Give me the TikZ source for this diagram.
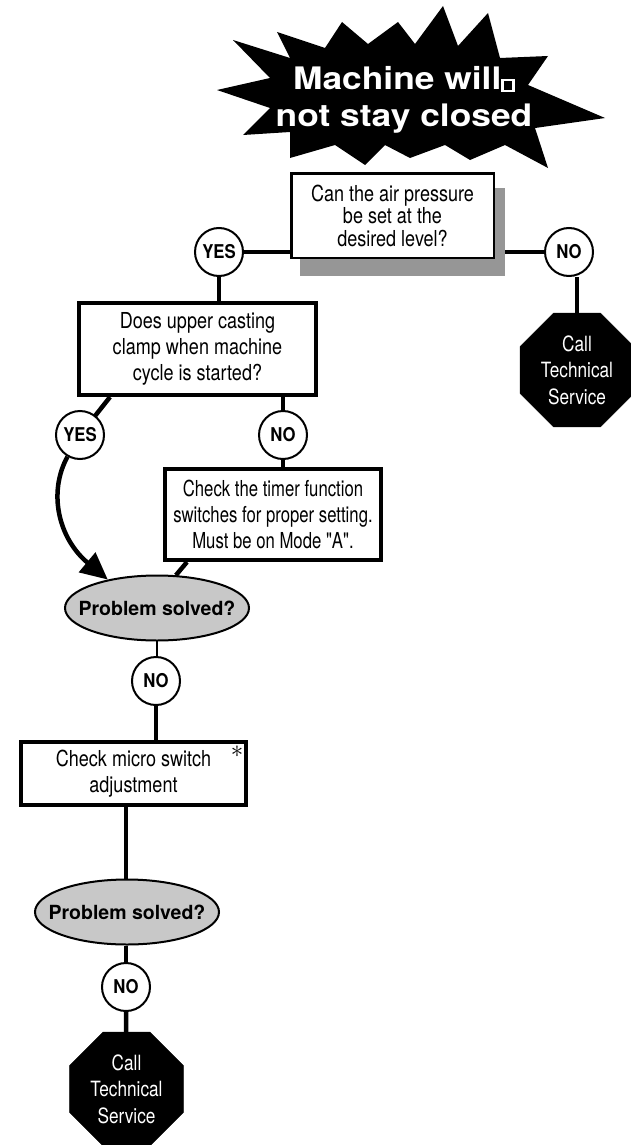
\documentclass[tikz,border=0pt]{standalone}
\usepackage{fontspec}
\setmainfont{TeX Gyre Heros}
\newfontfamily\titlefont[FakeStretch=1.14]{TeX Gyre Heros}
\newfontfamily\narrowfont[FakeStretch=0.82]{TeX Gyre Heros}
\newfontfamily\narrowerfont[FakeStretch=0.76]{TeX Gyre Heros}
\newfontfamily\ynfont[FakeStretch=0.88]{TeX Gyre Heros}
\usetikzlibrary{shapes.geometric,backgrounds,arrows.meta,calc}
\definecolor{shadowgray}{RGB}{150,150,150}
\definecolor{ovalgray}{RGB}{200,200,200}
\begin{document}
\begin{tikzpicture}[x=1pt,y=-1pt,
  qtext/.style={font=\narrowfont\fontsize{22}{26}\selectfont, align=center},
  qbox/.style={qtext, draw, line width=4pt, fill=white, inner sep=0pt},
  yn/.style={circle, draw, line width=2pt, fill=white, minimum size=48pt, inner sep=0pt,
     font=\ynfont\fontsize{19}{19}\selectfont\bfseries},
  oval/.style={ellipse, draw, line width=2pt, fill=ovalgray, minimum width=184pt,
     minimum height=65pt, inner sep=0pt, font=\fontsize{19.5}{19.5}\selectfont\bfseries},
  stopsign/.style={regular polygon, regular polygon sides=8, fill=black, draw=black,
     minimum size=123pt, inner sep=0pt},
  stoptext/.style={text=white, align=center, font=\narrowfont\fontsize{21}{26.5}\selectfont},
  link/.style={line width=4.5pt},
  thinlink/.style={line width=2pt}
]
\useasboundingbox (0,0) rectangle (630,1145);

% starburst
\fill[black] (217,90) -- (270,78) -- (233,40) -- (290,58) -- (277,32) -- (325,48)
  -- (342,22) -- (368,44) -- (398,22) -- (415,44) -- (443,6) -- (458,46) -- (488,13)
  -- (500,58) -- (548,56) -- (528,85) -- (605,118) -- (535,128) -- (548,168)
  -- (505,145) -- (470,160) -- (445,145) -- (410,158) -- (385,145) -- (365,165)
  -- (335,145) -- (290,158) -- (290,132) -- (243,135) -- (270,108) -- cycle;
\node[text=white, align=center, inner sep=0pt,
  font=\titlefont\fontsize{31}{37}\selectfont\bfseries] (title) at (404,100)
  {Machine will{\setlength\fboxsep{0pt}\setlength\fboxrule{2.5pt}\fbox{\rule{0pt}{8.5pt}\hspace{8.5pt}}}\\not stay closed};

% shadow of first box
\fill[shadowgray] (300,188) rectangle (505,276);

% boxes
\node[qbox, line width=2.5pt, minimum width=202.5pt, minimum height=84.5pt,
  font=\narrowfont\fontsize{22}{22.5}\selectfont] (box1) at (392.5,215.5)
  {Can the air pressure\\be set at the\\desired level?};
\node[qbox, minimum width=237pt, minimum height=92pt] (box2) at (197.5,349)
  {Does upper casting\\clamp when machine\\cycle is started?};
\node[qbox, minimum width=216pt, minimum height=91pt,
  font=\narrowerfont\fontsize{22}{26}\selectfont] (box3) at (273,514.5)
  {Check the timer function\\switches for proper setting.\\Must be on Mode "A".};
\node[qbox, minimum width=225pt, minimum height=63pt] (box4) at (133.5,773.5)
  {Check micro switch\\adjustment};
\node[font=\fontsize{24}{24}\selectfont, inner sep=0pt] (ast) at (237,752) {$\ast$};

% yes / no circles
\node[yn] (yes1) at (219,252) {YES};
\node[yn] (no1) at (569,252) {NO};
\node[yn] (yes2) at (80,435) {YES};
\node[yn] (no2) at (283,435) {NO};
\node[yn] (no3) at (156,681) {NO};
\node[yn] (no4) at (126,987) {NO};

% ovals
\node[oval] (ps1) at (157,608) {\makebox[0pt]{Problem solved?}};
\node[oval] (ps2) at (127,912) {\makebox[0pt]{Problem solved?}};

% stop signs
\node[stopsign, label={[stoptext]center:Call\\Technical\\Service}] (stop1) at (577,370) {};
\node[stopsign, label={[stoptext]center:Call\\Technical\\Service}] (stop2) at (126.5,1089) {};

% connectors
\begin{scope}[on background layer]
\draw[link] (yes1.center) -- (yes1.center -| box1.west);
\draw[link] (yes1.center) -- (yes1.center |- box2.north);
\draw[link] (no1.center) -- (no1.center -| box1.east);
\draw[link] (stop1.center) -- (stop1.center |- no1.south);
\draw[link] ($(box2.south west)+(33,0)$) -- (yes2.center);
\draw[link] (no2.center) -- (no2.center |- box2.south);
\draw[link] (no2.center) -- (no2.center |- box3.north);
\draw[link] ($(box3.south west)+(24,0)$) -- (ps1.60);
\draw[thinlink] (ps1.center) -- (ps1.center |- no3.center);
\draw[link] (no3.center) -- (no3.center |- box4.north);
\draw[link] (no4.center |- box4.south) -- (no4.center |- ps2.north);
\draw[link] (ps2.south -| no4.center) -- (no4.center);
\draw[link] (no4.center) -- (stop2.center);
\end{scope}
\draw[link, -{Triangle[length=27pt,width=25pt]}] (yes2.240) .. controls (48,492) and (58,538) .. (ps1.150);
\end{tikzpicture}
\end{document}
